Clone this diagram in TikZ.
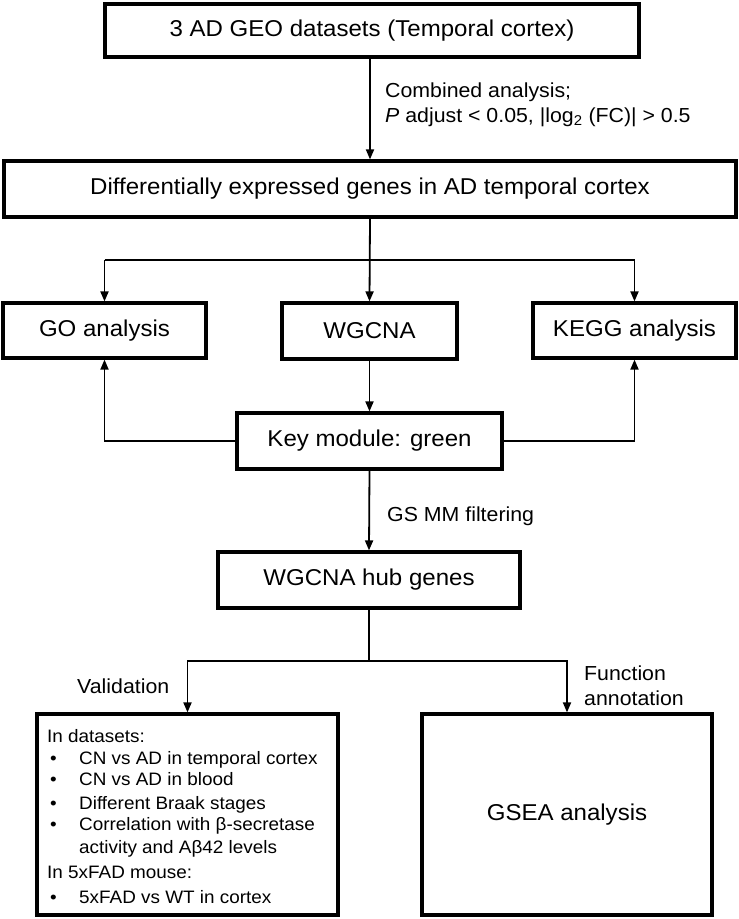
\documentclass[tikz,border=0pt]{standalone}
\usepackage{fontspec}
\setmainfont{Liberation Sans}[FakeStretch=1.05]
\usetikzlibrary{arrows.meta}
\begin{document}
\begin{tikzpicture}[x=1pt,y=-1pt,
  box/.style={draw,line width=3.2pt,inner sep=0pt,font=\fontsize{22.9}{27}\selectfont},
  conn/.style={line width=1.8pt},
  arr/.style={conn,-{Triangle[length=10pt,width=8pt]}},
  lab/.style={inner sep=0pt,anchor=base west,font=\fontsize{20.3}{24}\selectfont},
  lst/.style={inner sep=0pt,anchor=base west,font=\fontsize{18}{21}\selectfont}]
\useasboundingbox (0,0) rectangle (739,919);

% boxes
\node[box,minimum width=534pt,minimum height=53pt] (top) at (372,30.5) {3 AD GEO datasets (Temporal cortex)};
\node[box,minimum width=732pt,minimum height=56pt] (diff) at (370,189) {Differentially expressed genes in AD temporal cortex};
\node[box,minimum width=203pt,minimum height=55pt] (go) at (104.5,330.5) {GO analysis};
\node[box,minimum width=175pt,minimum height=56pt] (wg) at (369.5,331) {WGCNA};
\node[box,minimum width=203pt,minimum height=55pt] (kegg) at (634.5,330.5) {KEGG analysis};
\node[box,minimum width=265pt,minimum height=56pt] (key) at (369.5,441) {Key module: green};
\node[box,minimum width=302pt,minimum height=56pt] (hub) at (369,580) {WGCNA hub genes};
\node[box,minimum width=301pt,minimum height=201pt] (val) at (187.5,814.5) {};
\node[box,minimum width=290pt,minimum height=201pt] (gsea) at (567,814.5) {GSEA analysis};

% connectors
\draw[arr] (diff.north |- top.south) -- (diff.north);
\coordinate (br) at (370,260);
\draw[arr] (diff.south) -- (wg.north);
\draw[conn] (br -| go.north) -- (br -| kegg.north);
\draw[arr] (br -| go.north) -- (go.north);
\draw[arr] (br -| kegg.north) -- (kegg.north);
\draw[arr] (wg.south) -- (key.north);
\draw[arr] (key.west) -| (go.south);
\draw[arr] (key.east) -| (kegg.south);
\draw[arr] (key.south) -- (hub.north);
\coordinate (br2) at (369,661);
\draw[conn] (hub.south) -- (br2);
\draw[arr] (br2) -| (val.north);
\draw[arr] (br2) -| (gsea.north);

% labels
\node[lab] (l1a) at (385,97) {Combined analysis;};
\node[lab] (l1b) at (385,122) {\textit{P} adjust < 0.05, |log\textsubscript{2} (FC)| > 0.5};
\node[lab] (l2) at (387,521.5) {GS MM filtering};
\node[lab] (l3) at (77,693) {Validation};
\node[lab] (l4a) at (584,680) {Function};
\node[lab] (l4b) at (584,705) {annotation};

% list in validation box
\node[lst] (h1) at (47,742) {In datasets:};
\node[lst] (b1) at (50,764) {•};
\node[lst] (t1) at (79,764) {CN vs AD in temporal cortex};
\node[lst] (b2) at (50,785) {•};
\node[lst] (t2) at (79,785) {CN vs AD in blood};
\node[lst] (b3) at (50,809) {•};
\node[lst] (t3) at (79,809) {Different Braak stages};
\node[lst] (b4) at (50,830) {•};
\node[lst] (t4) at (79,830) {Correlation with β-secretase};
\node[lst] (t5) at (79,853) {activity and Aβ42 levels};
\node[lst] (h2) at (47,878) {In 5xFAD mouse:};
\node[lst] (b6) at (50,903) {•};
\node[lst] (t6) at (79,903) {5xFAD vs WT in cortex};
\end{tikzpicture}
\end{document}
